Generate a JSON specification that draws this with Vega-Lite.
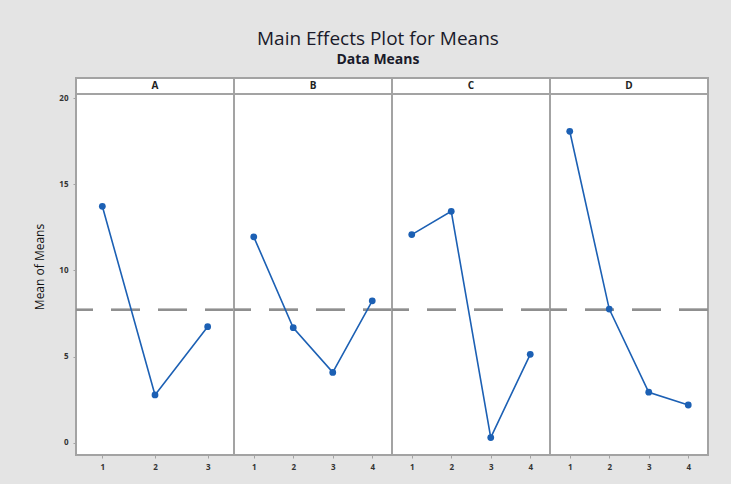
{
  "$schema": "https://vega.github.io/schema/vega-lite/v6.json",
  "background": "#e4e4e4",
  "padding": {"left": 33, "top": 30, "right": 23, "bottom": 12},
  "bounds": "flush",
  "title": {
    "text": "Main Effects Plot for Means",
    "subtitle": "Data Means",
    "anchor": "middle",
    "frame": "bounds",
    "dx": 6,
    "font": "Open Sans",
    "fontSize": 19,
    "fontWeight": "normal",
    "color": "#1a1a2a",
    "subtitleFont": "Open Sans",
    "subtitleFontSize": 14,
    "subtitleFontWeight": "bold",
    "subtitleColor": "#1a1a2a",
    "subtitlePadding": 4,
    "offset": 10
  },
  "datasets": {
    "means": [
      {"factor": "A", "level": "1", "mean": 13.72},
      {"factor": "A", "level": "2", "mean": 2.78},
      {"factor": "A", "level": "3", "mean": 6.74},
      {"factor": "B", "level": "1", "mean": 11.95},
      {"factor": "B", "level": "2", "mean": 6.68},
      {"factor": "B", "level": "3", "mean": 4.09},
      {"factor": "B", "level": "4", "mean": 8.24},
      {"factor": "C", "level": "1", "mean": 12.08},
      {"factor": "C", "level": "2", "mean": 13.43},
      {"factor": "C", "level": "3", "mean": 0.31},
      {"factor": "C", "level": "4", "mean": 5.14},
      {"factor": "D", "level": "1", "mean": 18.07},
      {"factor": "D", "level": "2", "mean": 7.76},
      {"factor": "D", "level": "3", "mean": 2.94},
      {"factor": "D", "level": "4", "mean": 2.2}
    ]
  },
  "data": {"name": "means"},
  "facet": {
    "column": {"field": "factor", "type": "nominal", "header": {"title": null, "labels": false}}
  },
  "spacing": {"column": 0},
  "resolve": {"scale": {"x": "independent"}},
  "spec": {
    "width": 158,
    "height": 377,
    "layer": [
      {
        "mark": {"type": "rule", "color": "#8f8f8f", "strokeWidth": 2, "strokeDash": [29, 18]},
        "encoding": {
          "y": {"datum": 7.72, "type": "quantitative", "scale": {"domain": [-0.7, 21.16], "nice": false, "zero": false}, "axis": {"title": "Mean of Means", "values": [0, 5, 10, 15, 20]}}
        }
      },
      {
        "mark": {"type": "rule", "color": "#a3a3a3", "strokeWidth": 2},
        "encoding": {"y": {"datum": 20.23, "type": "quantitative"}}
      },
      {
        "transform": [{"filter": "datum.level === '1'"}],
        "mark": {"type": "text", "font": "Open Sans", "fontSize": 10, "fontWeight": "bold", "color": "#222222"},
        "encoding": {
          "y": {"datum": 20.7, "type": "quantitative"},
          "text": {"field": "factor"}
        }
      },
      {
        "mark": {"type": "line", "color": "#1c60b4", "strokeWidth": 1.6, "point": {"filled": true, "size": 46, "color": "#1c60b4"}},
        "encoding": {
          "x": {"field": "level", "type": "ordinal", "scale": {"type": "point", "padding": 0.5}, "axis": {"title": null, "labelAngle": 0}},
          "y": {"field": "mean", "type": "quantitative"}
        }
      }
    ]
  },
  "config": {
    "view": {"stroke": "#a3a3a3", "strokeWidth": 2, "fill": "white"},
    "axis": {
      "domain": false,
      "grid": false,
      "ticks": true,
      "tickSize": 3,
      "tickColor": "#a3a3a3",
      "labelFont": "Open Sans",
      "labelFontSize": 8,
      "labelFontWeight": "bold",
      "labelColor": "#333333",
      "labelPadding": 5,
      "titleFont": "Open Sans",
      "titleFontSize": 12,
      "titleFontWeight": "normal",
      "titleColor": "#111111",
      "titlePadding": 12
    }
  }
}
